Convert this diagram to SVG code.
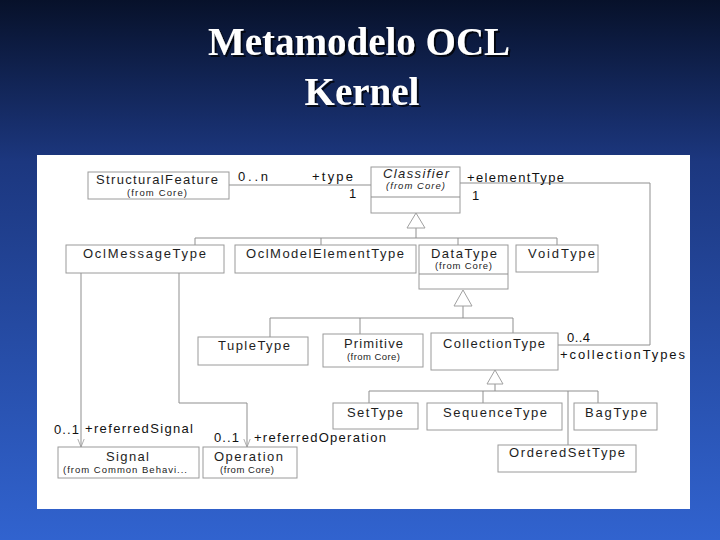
<svg xmlns="http://www.w3.org/2000/svg" width="720" height="540" viewBox="0 0 720 540">
<defs>
<linearGradient id="bg" x1="0" y1="0" x2="0" y2="1">
<stop offset="0" stop-color="#07112a"/>
<stop offset="0.3" stop-color="#1c377f"/>
<stop offset="1" stop-color="#3163cf"/>
</linearGradient>
<filter id="sh" x="-10%" y="-20%" width="120%" height="140%">
<feDropShadow dx="2" dy="2" stdDeviation="0.6" flood-color="#000" flood-opacity="0.75"/>
</filter>
<marker id="open" viewBox="0 0 10 10" refX="10" refY="5" markerWidth="8" markerHeight="8" orient="auto" markerUnits="userSpaceOnUse">
<path d="M0,1 L10,5 L0,9" fill="none" stroke="#999" stroke-width="1"/>
</marker>
</defs>
<style>
.box{fill:#fff;stroke:#9a9a9a;stroke-width:1}
.ln{fill:none;stroke:#8f8f8f;stroke-width:1}
.tri{fill:#fff;stroke:#a0a0a0;stroke-width:1}
.nm{font-family:"Liberation Sans",Arial,sans-serif;font-size:13px;fill:#1e1e1e}
.sm{font-family:"Liberation Sans",Arial,sans-serif;font-size:9.5px;fill:#222}
.it{font-style:italic}
.lb{font-family:"Liberation Sans",Arial,sans-serif;font-size:13px;fill:#111}
.title{font-family:"Liberation Serif","Times New Roman",serif;font-weight:bold;font-size:39px;fill:#fff;text-anchor:middle;filter:url(#sh)}
</style>
<rect x="0" y="0" width="720" height="540" fill="url(#bg)"/>
<g id="title">
<text class="title" x="359" y="55">Metamodelo OCL</text>
<text class="title" x="362" y="105">Kernel</text>
</g>
<rect x="37" y="155" width="653" height="354" fill="#fff"/>
<g id="connectors">
<path class="ln" d="M229,185 H371"/>
<path class="ln" d="M460,183 H650 V345 H558"/>
<path class="ln" d="M416,228 V238 M195,238 H557 M195,238 V245 M321,238 V245 M458,238 V245 M557,238 V245"/>
<polygon class="tri" points="416,213 407,228 425,228"/>
<path class="ln" d="M463,306 V318 M270,318 H513 M270,318 V337 M360,318 V334 M513,318 V333"/>
<polygon class="tri" points="463,290 454,306 472,306"/>
<path class="ln" d="M495,384 V391 M369,391 H598 M369,391 V403 M483,391 V403 M598,391 V403 M568,391 V445"/>
<polygon class="tri" points="495,370 487,384 503,384"/>
<path class="ln" d="M81,273 V447" marker-end="url(#open)"/>
<path class="ln" d="M179,273 V403 H247 V447" marker-end="url(#open)"/>
<text class="lb" x="238" y="181" textLength="30" lengthAdjust="spacing">0..n</text>
<text class="lb" x="312" y="181" textLength="41" lengthAdjust="spacing">+type</text>
<text class="lb" x="349" y="198">1</text>
<text class="lb" x="467" y="182" textLength="97" lengthAdjust="spacing">+elementType</text>
<text class="lb" x="472" y="200">1</text>
<text class="lb" x="567" y="342" textLength="23" lengthAdjust="spacing">0..4</text>
<text class="lb" x="560" y="359" textLength="125" lengthAdjust="spacing">+collectionTypes</text>
<text class="lb" x="54" y="434" textLength="25" lengthAdjust="spacing">0..1</text>
<text class="lb" x="85" y="433" textLength="108" lengthAdjust="spacing">+referredSignal</text>
<text class="lb" x="214" y="442" textLength="25" lengthAdjust="spacing">0..1</text>
<text class="lb" x="254" y="442" textLength="132" lengthAdjust="spacing">+referredOperation</text>
</g>
<g id="StructuralFeature">
<rect class="box" x="88" y="172" width="141" height="27"/>
<text class="nm" x="96" y="184" textLength="122" lengthAdjust="spacing">StructuralFeature</text>
<text class="sm" x="127" y="196" textLength="60" lengthAdjust="spacing">(from Core)</text>
</g>
<g id="Classifier">
<rect class="box" x="371" y="167" width="89" height="46"/>
<path class="ln" d="M371,197 H460"/>
<text class="nm it" x="383" y="178" textLength="66" lengthAdjust="spacing">Classifier</text>
<text class="sm it" x="386" y="189" textLength="59" lengthAdjust="spacing">(from Core)</text>
</g>
<g id="OclMessageType">
<rect class="box" x="66" y="245" width="158" height="28"/>
<text class="nm" x="83" y="258" textLength="123" lengthAdjust="spacing">OclMessageType</text>
</g>
<g id="OclModelElementType">
<rect class="box" x="235" y="245" width="181" height="28"/>
<text class="nm" x="246" y="258" textLength="158" lengthAdjust="spacing">OclModelElementType</text>
</g>
<g id="DataType">
<rect class="box" x="419" y="245" width="89" height="44"/>
<path class="ln" d="M419,274 H508"/>
<text class="nm" x="431" y="258" textLength="66" lengthAdjust="spacing">DataType</text>
<text class="sm" x="435" y="269" textLength="57" lengthAdjust="spacing">(from Core)</text>
</g>
<g id="VoidType">
<rect class="box" x="516" y="245" width="82" height="27"/>
<text class="nm" x="528" y="258" textLength="67" lengthAdjust="spacing">VoidType</text>
</g>
<g id="TupleType">
<rect class="box" x="198" y="337" width="110" height="28"/>
<text class="nm" x="218" y="350" textLength="72" lengthAdjust="spacing">TupleType</text>
</g>
<g id="Primitive">
<rect class="box" x="323" y="334" width="100" height="33"/>
<text class="nm" x="344" y="348" textLength="59" lengthAdjust="spacing">Primitive</text>
<text class="sm" x="347" y="360" textLength="53" lengthAdjust="spacing">(from Core)</text>
</g>
<g id="CollectionType">
<rect class="box" x="431" y="333" width="127" height="37"/>
<text class="nm" x="443" y="348" textLength="102" lengthAdjust="spacing">CollectionType</text>
</g>
<g id="SetType">
<rect class="box" x="333" y="403" width="85" height="26"/>
<text class="nm" x="347" y="417" textLength="56" lengthAdjust="spacing">SetType</text>
</g>
<g id="SequenceType">
<rect class="box" x="427" y="403" width="135" height="27"/>
<text class="nm" x="443" y="417" textLength="104" lengthAdjust="spacing">SequenceType</text>
</g>
<g id="BagType">
<rect class="box" x="574" y="403" width="83" height="27"/>
<text class="nm" x="585" y="417" textLength="62" lengthAdjust="spacing">BagType</text>
</g>
<g id="OrderedSetType">
<rect class="box" x="498" y="445" width="138" height="27"/>
<text class="nm" x="509" y="457" textLength="116" lengthAdjust="spacing">OrderedSetType</text>
</g>
<g id="Signal">
<rect class="box" x="58" y="447" width="141" height="31"/>
<text class="nm" x="106" y="461" textLength="43" lengthAdjust="spacing">Signal</text>
<text class="sm" x="63" y="473" textLength="124" lengthAdjust="spacing">(from Common Behavi...</text>
</g>
<g id="Operation">
<rect class="box" x="203" y="447" width="94" height="31"/>
<text class="nm" x="214" y="461" textLength="69" lengthAdjust="spacing">Operation</text>
<text class="sm" x="220" y="473" textLength="54" lengthAdjust="spacing">(from Core)</text>
</g>
</svg>
